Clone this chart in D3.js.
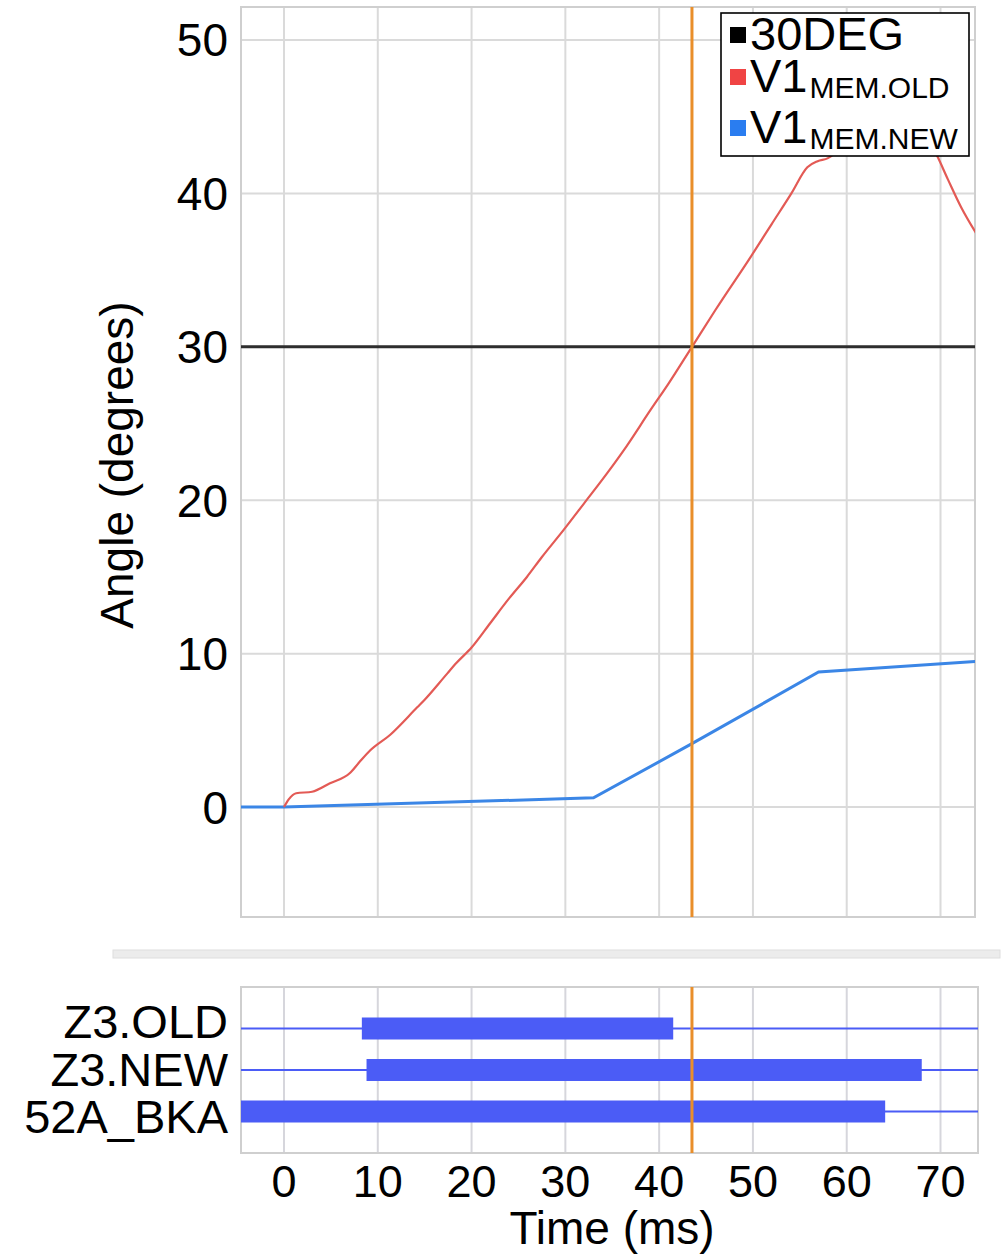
<!DOCTYPE html>
<html>
<head>
<meta charset="utf-8">
<script src="https://cdn.jsdelivr.net/npm/d3@7"></script>
<style>
  body { margin: 0; background: #fff; }
  svg { display: block; }
  text { font-family: "Liberation Sans", Arial, sans-serif; fill: #000; }
</style>
</head>
<body>
<svg id="chart" width="1005" height="1259"></svg>
<script>
// ---- data ----
const timeTicks  = [0, 10, 20, 30, 40, 50, 60, 70];
const angleTicks = [0, 10, 20, 30, 40, 50];

// V1 MEM.OLD trace (time ms, angle deg)
const oldTime  = [0, 0.5, 1.3, 3.0, 4.9, 7.0, 8.0, 9.2, 11.3, 14.2, 15.0, 17.4, 18.4, 20.0, 22.0, 24.0, 25.9, 27.5, 29.8, 32.0, 34.5, 36.5, 39.1, 41.0, 43.4, 46.0, 49.8, 52.0, 54.1, 55.8, 56.9, 58.0, 58.7, 61.0, 64.0, 67.0, 69.6, 70.8, 72.2, 73.8];
const oldAngle = [0, 0.5, 0.9, 1.0, 1.55, 2.2, 2.9, 3.7, 4.7, 6.5, 7.0, 8.7, 9.4, 10.4, 12.0, 13.6, 15.0, 16.3, 18.05, 19.8, 21.8, 23.5, 25.9, 27.6, 29.9, 32.4, 35.9, 38.0, 40.0, 41.7, 42.1, 42.3, 42.6, 45.0, 47.0, 45.0, 42.5, 40.9, 39.1, 37.4];

// V1 MEM.NEW trace
const newTime  = [-4.6, 0, 33.0, 43.4, 57.0, 73.8];
const newAngle = [0, 0, 0.6, 4.1, 8.8, 9.5];

const thresholdAngle = 30;
const cursorTime = 43.5;

// digital signals: thick segment = active interval
const signalNames = ["Z3.OLD", "Z3.NEW", "52A_BKA"];
const signalOn    = [8.3, 8.8, -4.6];
const signalOff   = [41.5, 68.0, 64.1];

const legendNames = ["30DEG", "V1", "V1"];
const legendSubs  = ["", "MEM.OLD", "MEM.NEW"];
const legendColors = ["#000000", "#f04444", "#2a7df0"];

// ---- layout ----
const svg = d3.select("#chart");
const left = 241, rightTop = 975, rightBottom = 978;
const top1 = 7, bottom1 = 917;
const top2 = 987, bottom2 = 1153;

const x = d3.scaleLinear().domain([0, 70]).range([284, 940.5]);
const xMin = x.invert(left);
const y = d3.scaleLinear().domain([-7.1, 52.15]).range([916, 7]);

const gridColor = "#dadada";

// ---- upper panel ----
svg.append("defs").append("clipPath").attr("id", "clipTop")
  .append("rect").attr("x", left).attr("y", top1).attr("width", rightTop - left).attr("height", bottom1 - top1);

const upper = svg.append("g");
upper.append("g").selectAll("line").data(timeTicks).join("line")
  .attr("x1", d => x(d)).attr("x2", d => x(d)).attr("y1", top1).attr("y2", bottom1)
  .attr("stroke", gridColor).attr("stroke-width", 2);
upper.append("g").selectAll("line").data(angleTicks).join("line")
  .attr("x1", left).attr("x2", rightTop).attr("y1", d => y(d)).attr("y2", d => y(d))
  .attr("stroke", gridColor).attr("stroke-width", 2);
upper.append("rect").attr("x", left).attr("y", top1).attr("width", rightTop - left).attr("height", bottom1 - top1)
  .attr("fill", "none").attr("stroke", "#cfcfcf").attr("stroke-width", 2);

const plot = upper.append("g").attr("clip-path", "url(#clipTop)");
const smoothLine = d3.line().x(d => x(d[0])).y(d => y(d[1])).curve(d3.curveMonotoneX);

plot.append("line").attr("x1", left).attr("x2", rightTop)
  .attr("y1", y(thresholdAngle)).attr("y2", y(thresholdAngle))
  .attr("stroke", "#2e2e2e").attr("stroke-width", 3);
plot.append("path").datum(newTime.map((t, i) => [t, newAngle[i]]))
  .attr("d", d3.line().x(d => x(d[0])).y(d => y(d[1])))
  .attr("fill", "none").attr("stroke", "#3b86e6").attr("stroke-width", 3);
plot.append("path").datum(oldTime.map((t, i) => [t, oldAngle[i]]))
  .attr("d", smoothLine)
  .attr("fill", "none").attr("stroke", "#e35a55").attr("stroke-width", 2.2);
plot.append("line").attr("x1", x(cursorTime)).attr("x2", x(cursorTime)).attr("y1", top1).attr("y2", bottom1)
  .attr("stroke", "#e98e2a").attr("stroke-width", 3);

// y tick labels
upper.append("g").selectAll("text").data(angleTicks).join("text")
  .attr("x", 228).attr("y", d => y(d) + 16.5)
  .attr("text-anchor", "end").attr("font-size", 46).text(d => d);

// y axis title
svg.append("text").attr("transform", "translate(133,465) rotate(-90)")
  .attr("text-anchor", "middle").attr("font-size", 46).text("Angle (degrees)");

// legend
const lg = svg.append("g");
lg.append("rect").attr("x", 721).attr("y", 13).attr("width", 248).attr("height", 143)
  .attr("fill", "#fff").attr("stroke", "#000").attr("stroke-width", 1.6);
const legendBase = [50, 92, 143];
legendNames.forEach((name, i) => {
  lg.append("rect").attr("x", 730).attr("y", legendBase[i] - 23).attr("width", 16).attr("height", 16)
    .attr("fill", legendColors[i]);
  const t = lg.append("text").attr("x", 750).attr("y", legendBase[i]).attr("font-size", 47);
  t.append("tspan").text(name);
  if (legendSubs[i]) {
    t.append("tspan").attr("dy", 6).attr("dx", 2).attr("font-size", 30).text(legendSubs[i]);
  }
});

// ---- separator ----
svg.append("rect").attr("x", 113).attr("y", 950).attr("width", 887).attr("height", 8)
  .attr("fill", "#ececec").attr("stroke", "#dedede").attr("stroke-width", 1);

// ---- lower panel ----
const rowY = d3.scalePoint().domain(signalNames).range([top2, bottom2]).padding(1);
const labelY = d3.scalePoint().domain(signalNames).range([1038, 1133]);

const lower = svg.append("g");
lower.append("g").selectAll("line").data(timeTicks).join("line")
  .attr("x1", d => x(d)).attr("x2", d => x(d)).attr("y1", top2).attr("y2", bottom2)
  .attr("stroke", "#d6d6dc").attr("stroke-width", 2);
lower.append("rect").attr("x", left).attr("y", top2).attr("width", rightBottom - left).attr("height", bottom2 - top2)
  .attr("fill", "none").attr("stroke", "#cfcfcf").attr("stroke-width", 2);

const barColor = "#4b5cf6";
lower.append("g").selectAll("line").data(signalNames).join("line")
  .attr("x1", left).attr("x2", rightBottom)
  .attr("y1", d => rowY(d)).attr("y2", d => rowY(d))
  .attr("stroke", barColor).attr("stroke-width", 2);
lower.append("g").selectAll("rect").data(signalNames).join("rect")
  .attr("x", (d, i) => x(Math.max(signalOn[i], xMin)))
  .attr("width", (d, i) => x(signalOff[i]) - x(Math.max(signalOn[i], xMin)))
  .attr("y", d => rowY(d) - 11).attr("height", 22)
  .attr("fill", barColor);
lower.append("line").attr("x1", x(cursorTime)).attr("x2", x(cursorTime)).attr("y1", top2).attr("y2", bottom2)
  .attr("stroke", "#e98e2a").attr("stroke-width", 3);

lower.append("g").selectAll("text").data(signalNames).join("text")
  .attr("x", 228).attr("y", d => labelY(d))
  .attr("text-anchor", "end").attr("font-size", 47).text(d => d);

// x tick labels and title
lower.append("g").selectAll("text").data(timeTicks).join("text")
  .attr("x", d => x(d)).attr("y", 1197)
  .attr("text-anchor", "middle").attr("font-size", 45).text(d => d);
svg.append("text").attr("x", 612).attr("y", 1244)
  .attr("text-anchor", "middle").attr("font-size", 46).text("Time (ms)");
</script>
</body>
</html>
